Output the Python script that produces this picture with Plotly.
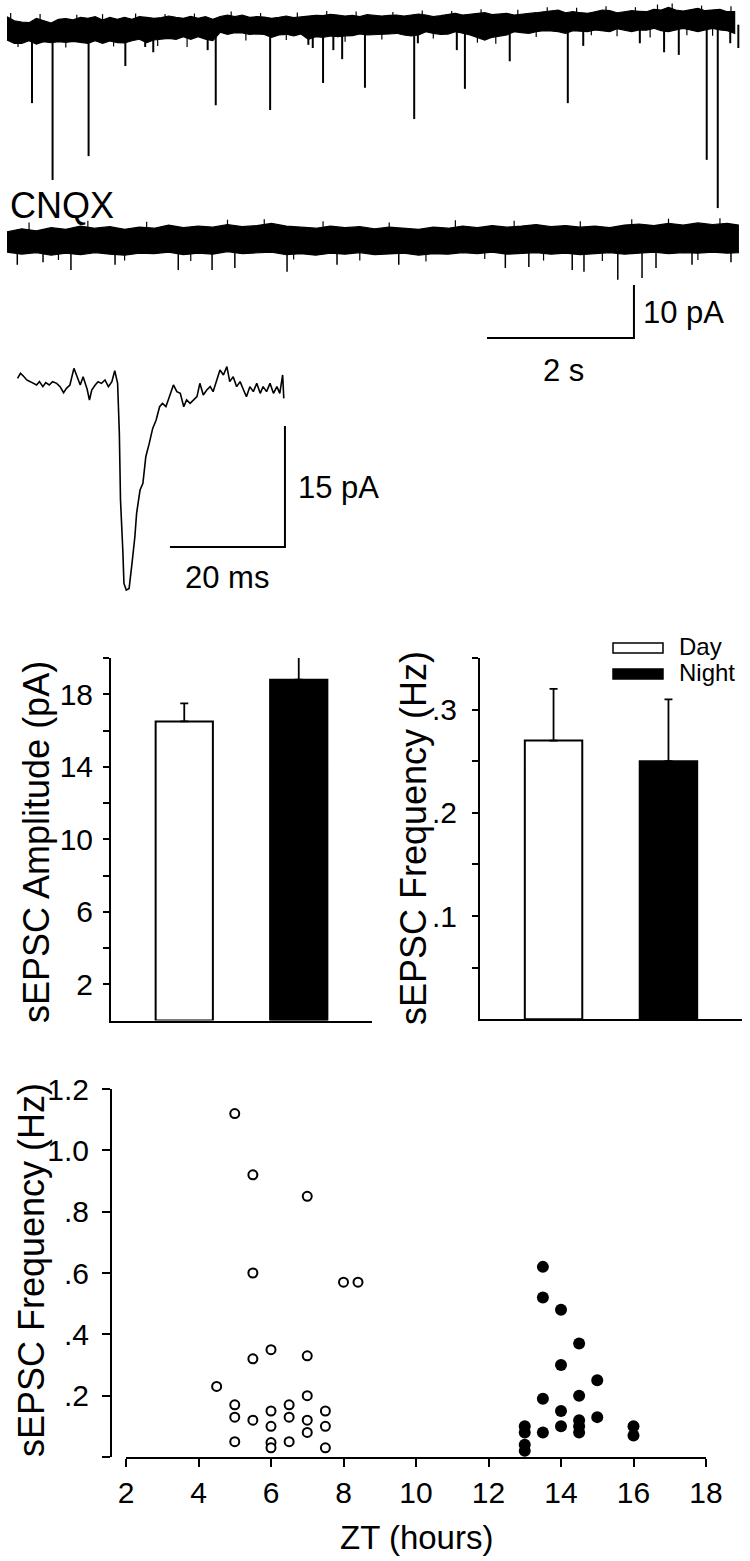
import plotly.graph_objects as go

W, H = 750, 1561
FONT = "Liberation Sans, Arial, sans-serif"

# ---------------- data ----------------
# Top recording (control): noise band envelope sampled every 0.1 s (pA)
TOP_T = [
    0.0, 0.1, 0.2, 0.3, 0.4, 0.5, 0.6, 0.7, 0.8, 0.9,
    1.0, 1.1, 1.2, 1.3, 1.4, 1.5, 1.6, 1.7, 1.8, 1.9,
    2.0, 2.1, 2.2, 2.3, 2.4, 2.5, 2.6, 2.7, 2.8, 2.9,
    3.0, 3.1, 3.2, 3.3, 3.4, 3.5, 3.6, 3.7, 3.8, 3.9,
    4.0, 4.1, 4.2, 4.3, 4.4, 4.5, 4.6, 4.7, 4.8, 4.9,
    5.0, 5.1, 5.2, 5.3, 5.4, 5.5, 5.6, 5.7, 5.8, 5.9,
    6.0, 6.1, 6.2, 6.3, 6.4, 6.5, 6.6, 6.7, 6.8, 6.9,
    7.0, 7.1, 7.2, 7.3, 7.4, 7.5, 7.6, 7.7, 7.8, 7.9,
    8.0, 8.1, 8.2, 8.3, 8.4, 8.5, 8.6, 8.7, 8.8, 8.9,
    9.0, 9.1, 9.2, 9.3, 9.4, 9.5, 9.6, 9.7, 9.8, 9.9,
]
TOP_UPPER = [
    2.51, 1.75, 1.51, 1.38, 2.21, 1.75, 1.32, 2.02, 2.15, 1.90,
    2.40, 2.21, 2.51, 1.89, 2.40, 2.02, 2.40, 2.02, 2.51, 2.40,
    2.21, 2.32, 2.64, 2.40, 2.21, 2.58, 2.21, 2.51, 2.02, 2.51,
    2.83, 2.51, 2.83, 2.40, 2.51, 2.45, 2.21, 2.40, 2.64, 2.32,
    2.45, 2.64, 2.77, 2.70, 2.96, 2.83, 2.64, 2.77, 2.51, 2.89,
    2.70, 2.64, 2.77, 2.83, 2.64, 2.89, 3.02, 2.83, 2.51, 2.70,
    2.89, 3.15, 2.83, 2.96, 3.02, 3.26, 2.89, 3.02, 3.15, 2.83,
    3.02, 3.21, 3.26, 3.45, 3.64, 3.77, 3.26, 3.45, 3.26, 3.15,
    3.45, 3.77, 3.64, 3.26, 3.45, 3.64, 3.53, 3.45, 3.91, 3.77,
    4.28, 3.77, 3.58, 3.77, 4.09, 3.64, 3.77, 3.91, 3.45, 3.45,
]
TOP_LOWER = [
    -1.89, -2.51, -2.51, -2.02, -2.64, -2.21, -2.40, -2.21, -2.33, -2.15,
    -2.40, -2.51, -2.02, -2.51, -2.08, -2.40, -2.45, -2.02, -1.75, -2.40,
    -1.89, -1.75, -1.57, -1.75, -1.26, -1.75, -1.26, -1.75, -2.02, -0.43,
    -0.81, -0.51, -0.55, -0.81, -0.75, -0.85, -1.38, -0.94, -0.81, -1.13,
    -0.75, -1.75, -1.26, -1.38, -1.13, -1.26, -1.13, -1.08, -0.75, -0.94,
    -0.81, -0.85, -0.75, -0.62, -0.94, -1.13, -0.94, -0.32, -0.62, -0.81,
    -0.77, -0.32, -0.62, -0.94, -1.38, -1.89, -1.38, -1.13, -0.94, -0.32,
    -0.51, -0.62, -0.32, -0.13, -0.19, -0.32, -0.62, -0.13, -0.19, -0.32,
    0.00, -0.19, -0.32, 0.25, 0.00, -0.32, 0.00, -0.05, 0.32, -0.13,
    -0.32, 0.00, 0.32, 0.00, -0.32, 0.00, 0.32, 0.00, -0.13, -0.62,
]
# spontaneous EPSCs in the control trace: time (s) and peak (pA)
TOP_EVENT_T = [0.34, 0.62, 1.11, 1.61, 1.88, 1.99, 2.73, 2.84, 3.58, 4.10,
               4.16, 4.30, 4.44, 4.56, 4.87, 5.54, 5.59, 6.12, 6.23, 6.84,
               7.63, 7.84, 8.61, 8.94, 9.14, 9.52, 9.67, 9.84, 9.95]
TOP_EVENT_PEAK = [-13.8, -28.3, -23.8, -6.8, -3.2, -4.2, -3.8, -14.2, -15.1, -2.8,
                  -3.4, -10.0, -3.8, -5.5, -10.9, -16.8, -2.5, -3.8, -11.1, -5.9,
                  -13.8, -3.0, -2.5, -4.2, -4.7, -24.5, -33.6, -2.5, -3.4]
# fine noise spikes sticking out of the control band (s, pA)
TOP_HAIR_T = [0.05, 0.15, 0.45, 0.80, 0.95, 1.30, 1.45, 1.75, 2.05, 2.15,
              2.45, 2.55, 3.05, 3.25, 3.45, 3.80, 3.95, 4.35, 4.60, 4.75,
              5.10, 5.25, 5.65, 5.80, 6.05, 6.40, 6.45, 6.65, 6.95, 7.20,
              7.35, 7.75, 7.95, 8.15, 8.30, 8.55, 8.75, 8.85, 9.05, 9.25,
              9.45, 9.60, 9.85]
TOP_HAIR_TIP = [3.2, -3.2, 3.0, -3.3, 2.9, 3.0, -3.1, 3.1, -3.0, 3.0,
                -3.2, 3.1, 3.5, -2.0, 3.2, -1.9, 3.3, 3.6, -2.2, 3.5,
                -1.8, 3.4, 3.7, -1.6, 3.6, -2.4, 3.9, -2.6, 3.8, -1.3,
                4.3, 4.2, -1.0, 4.5, -1.2, 4.3, -1.4, 4.8, 5.0, -1.0,
                4.6, -1.1, 4.5]

# CNQX recording: envelope every 0.2 s (pA, relative to its own baseline)
CNQX_T = [
    0.0, 0.2, 0.4, 0.6, 0.8, 1.0, 1.2, 1.4, 1.6, 1.8,
    2.0, 2.2, 2.4, 2.6, 2.8, 3.0, 3.2, 3.4, 3.6, 3.8,
    4.0, 4.2, 4.4, 4.6, 4.8, 5.0, 5.2, 5.4, 5.6, 5.8,
    6.0, 6.2, 6.4, 6.6, 6.8, 7.0, 7.2, 7.4, 7.6, 7.8,
    8.0, 8.2, 8.4, 8.6, 8.8, 9.0, 9.2, 9.4, 9.6, 9.8, 9.95,
]
CNQX_UPPER = [
    1.5, 2.1, 1.7, 2.3, 2.0, 2.6, 2.2, 2.5, 2.0, 2.4,
    2.2, 2.8, 2.3, 2.6, 2.4, 2.9, 2.5, 2.7, 3.1, 2.6,
    2.4, 2.2, 2.6, 2.3, 2.5, 2.1, 2.4, 2.2, 2.0, 2.4,
    2.2, 2.6, 2.3, 2.7, 2.4, 2.6, 2.9, 2.5, 2.7, 2.4,
    2.6, 2.3, 2.8, 3.0, 2.7, 3.1, 2.8, 3.2, 2.9, 3.1, 2.8,
]
CNQX_LOWER = [
    -2.3, -2.7, -2.4, -2.9, -2.5, -2.8, -2.4, -2.7, -2.9, -2.5,
    -2.6, -2.3, -2.8, -2.5, -2.7, -2.2, -2.6, -2.4, -2.3, -2.8,
    -2.6, -2.9, -2.5, -2.7, -2.4, -2.8, -2.6, -2.5, -2.9, -2.6,
    -2.7, -2.4, -2.6, -2.3, -2.7, -2.5, -2.4, -2.7, -2.5, -2.8,
    -2.6, -2.4, -2.7, -2.5, -2.3, -2.6, -2.4, -2.5, -2.3, -2.5, -2.4,
]
CNQX_EVENT_T = [0.14, 0.49, 0.87, 1.47, 2.33, 2.79, 3.10, 3.81, 4.49, 5.33,
                6.78, 7.10, 7.69, 7.85, 8.31, 8.64, 8.83, 9.32, 9.85]
CNQX_EVENT_PEAK = [-4.7, -4.2, -5.7, -4.7, -5.7, -5.7, -5.3, -6.0, -4.7, -4.7,
                   -5.3, -5.1, -5.7, -6.0, -7.5, -7.2, -5.3, -4.7, -4.2]
CNQX_HAIR_T = [0.3, 0.7, 1.1, 1.6, 1.9, 2.5, 3.0, 3.5, 3.9, 4.3, 4.8, 5.2,
               5.7, 6.1, 6.5, 6.9, 7.3, 7.8, 8.1, 8.5, 9.0, 9.4, 9.7]
CNQX_HAIR_TIP = [3.3, -3.8, 3.6, -3.9, 3.4, -4.0, 3.8, 3.9, -3.7, 3.5, -3.9, 3.3,
                 -4.1, 3.7, -3.6, 3.6, -3.9, 3.5, -4.0, 3.9, 4.0, -3.8, 4.1]

# averaged sEPSC (ms, pA)
EPSC_MS = [0.1, 0.6, 1.1, 1.7, 2.3, 2.8, 3.4, 3.9, 4.5, 5.0,
           5.6, 6.2, 6.9, 7.5, 8.1, 8.6, 9.2, 9.9, 10.4, 11.0,
           11.5, 12.2, 12.6, 13.0, 13.6, 14.1, 14.7, 15.3, 15.9, 16.5,
           17.0, 17.5, 17.8, 18.0, 18.4, 18.6, 19.0, 19.5, 20.0, 20.5,
           20.8, 21.4, 21.9, 22.4, 23.0, 23.6, 24.2, 24.8, 25.3, 25.9,
           26.5, 27.2, 27.8, 28.4, 29.0, 29.5, 30.1, 30.7, 31.3, 31.8,
           32.4, 33.0, 33.6, 34.1, 34.7, 35.3, 35.9, 36.5, 37.0, 37.6,
           38.2, 38.8, 39.4, 39.9, 40.5, 41.1, 41.7, 42.3, 42.8, 43.4,
           44.0, 44.6, 45.2, 45.7, 46.2, 46.4]
EPSC_PA = [0.70, 1.32, 0.99, 0.50, 0.29, 0.08, -0.12, 0.29, -0.33, 0.17,
           -0.12, 0.29, 0.08, -0.33, -1.07, -0.54, -0.12, 1.94, 0.91, -0.12,
           0.91, -0.66, -1.98, -0.74, -0.12, 0.29, 0.08, 0.50, -0.33, 0.29,
           1.65, 0.08, -6.12, -14.38, -20.58, -24.71, -25.54, -25.33, -22.23, -18.93,
           -16.03, -13.14, -12.31, -9.01, -7.36, -5.50, -4.46, -2.81, -2.40, -2.81,
           -1.57, -0.12, -0.95, -1.16, -2.81, -1.98, -2.40, -1.98, -1.57, 0.08,
           -1.36, -0.74, -0.33, -0.95, 0.50, 1.74, 1.12, 2.15, 0.29, 0.91,
           -0.33, 0.29, -0.74, -1.57, -0.33, -0.95, 0.08, -1.16, -0.33, -0.95,
           0.08, -1.16, -0.33, -1.16, 1.12, -1.78]

GROUPS = ["Day", "Night"]
GROUP_X = [1, 2]
AMP_MEAN = [16.5, 18.8]
AMP_SEM = [1.0, 1.25]
FREQ_MEAN = [0.27, 0.25]
FREQ_SEM = [0.05, 0.06]

AMP_TICKS = [2, 4, 6, 8, 10, 12, 14, 16, 18, 20]
AMP_TICKTEXT = ["2", "", "6", "", "10", "", "14", "", "18", ""]
FREQ_TICKS = [0.05, 0.1, 0.15, 0.2, 0.25, 0.3, 0.35]
FREQ_TICKTEXT = ["", ".1", "", ".2", "", ".3", ""]

DAY_ZT = [5, 5.5, 7, 5.5, 8, 8.4, 4.5, 5.5, 6, 7,
          7, 5, 5, 5, 5.5, 6, 6, 6, 6, 6.5,
          6.5, 6.5, 7, 7, 7.5, 7.5, 7.5]
DAY_FREQ = [1.12, 0.92, 0.85, 0.60, 0.57, 0.57, 0.23, 0.32, 0.35, 0.33,
            0.20, 0.17, 0.13, 0.05, 0.12, 0.15, 0.10, 0.047, 0.03, 0.17,
            0.13, 0.05, 0.12, 0.08, 0.15, 0.10, 0.03]
NIGHT_ZT = [13.5, 13.5, 14, 14.5, 14, 15, 13.5, 14.5, 14, 15,
            14, 14.5, 14.5, 14.5, 13.5, 13, 13, 13, 13, 16, 16]
NIGHT_FREQ = [0.62, 0.52, 0.48, 0.37, 0.30, 0.25, 0.19, 0.20, 0.15, 0.13,
              0.10, 0.12, 0.10, 0.08, 0.08, 0.10, 0.08, 0.04, 0.02, 0.10, 0.07]

ZT_TICKS = [2, 4, 6, 8, 10, 12, 14, 16, 18]
SC_Y_TICKS = [0, 0.2, 0.4, 0.6, 0.8, 1.0, 1.2]
SC_Y_TICKTEXT = ["", ".2", ".4", ".6", ".8", "1.0", "1.2"]


# ---------------- layout helpers (pixel -> paper) ----------------
def xp(px):
    return px / W


def yp(py):
    return 1 - py / H


# trace panel calibration
T0_PX, PX_PER_S = 7, 73.5
ZERO_PY, PX_PER_PA = 30, 5.3
CNQX_OFFSET = -39.6          # CNQX trace drawn below the control trace
EVENT_BASE = 1.0
TRACE_BOTTOM_PY = 345

# inset calibration
I_T0_PX, PX_PER_MS = 17, 5.75
I_ZERO_PY, I_PX_PER_PA = 384, 8.07


def band(t, upper, lower, offset=0.0):
    return go.Scatter(
        x=t + t[::-1],
        y=[v + offset for v in upper] + [v + offset for v in lower[::-1]],
        mode="lines", fill="toself", fillcolor="black",
        line=dict(color="black", width=1.2),
        xaxis="x", yaxis="y", hoverinfo="skip",
    )


def events(times, peaks, base, offset=0.0, width=1.8):
    xs, ys = [], []
    for t, p in zip(times, peaks):
        xs += [t, t, None]
        ys += [base + offset, p + offset, None]
    return go.Scatter(x=xs, y=ys, mode="lines",
                      line=dict(color="black", width=width),
                      xaxis="x", yaxis="y", hoverinfo="skip")


fig = go.Figure()

# recordings
fig.add_trace(band(TOP_T, TOP_UPPER, TOP_LOWER))
fig.add_trace(events(TOP_HAIR_T, TOP_HAIR_TIP, EVENT_BASE, width=1.2))
fig.add_trace(events(TOP_EVENT_T, TOP_EVENT_PEAK, EVENT_BASE, width=2))
fig.add_trace(band(CNQX_T, CNQX_UPPER, CNQX_LOWER, CNQX_OFFSET))
fig.add_trace(events(CNQX_HAIR_T, CNQX_HAIR_TIP, 0.0, CNQX_OFFSET, width=1.2))
fig.add_trace(events(CNQX_EVENT_T, CNQX_EVENT_PEAK, 0.5, CNQX_OFFSET, width=1.5))

# 10 pA / 2 s scale bar
SB_T, SB_I = 8.53, -58.1
fig.add_trace(go.Scatter(x=[SB_T - 2, SB_T, SB_T], y=[SB_I, SB_I, SB_I + 10],
                         mode="lines", line=dict(color="black", width=2),
                         xaxis="x", yaxis="y", hoverinfo="skip"))

# averaged sEPSC inset + 15 pA / 20 ms bar
fig.add_trace(go.Scatter(x=EPSC_MS, y=EPSC_PA, mode="lines",
                         line=dict(color="black", width=1.6),
                         xaxis="x2", yaxis="y2", hoverinfo="skip"))
IB_T, IB_I = 46.6, -20.2
fig.add_trace(go.Scatter(x=[IB_T - 20, IB_T, IB_T], y=[IB_I, IB_I, IB_I + 15],
                         mode="lines", line=dict(color="black", width=2),
                         xaxis="x2", yaxis="y2", hoverinfo="skip"))

# bar charts
BAR_COLORS = ["white", "black"]
fig.add_trace(go.Bar(
    x=GROUP_X, y=AMP_MEAN, width=0.5, name="Amplitude",
    marker=dict(color=BAR_COLORS, line=dict(color="black", width=2)),
    error_y=dict(type="data", array=AMP_SEM, arrayminus=[0, 0], symmetric=False,
                 color="black", thickness=1.8, width=4),
    cliponaxis=False, xaxis="x3", yaxis="y3",
))
fig.add_trace(go.Bar(
    x=GROUP_X, y=FREQ_MEAN, width=0.5, name="Frequency",
    marker=dict(color=BAR_COLORS, line=dict(color="black", width=2)),
    error_y=dict(type="data", array=FREQ_SEM, arrayminus=[0, 0], symmetric=False,
                 color="black", thickness=1.8, width=4),
    cliponaxis=False, xaxis="x4", yaxis="y4",
))

# scatter of individual cells
fig.add_trace(go.Scatter(
    x=DAY_ZT, y=DAY_FREQ, mode="markers", name="Day",
    marker=dict(symbol="circle", size=9, color="white",
                line=dict(color="black", width=2)),
    cliponaxis=False, xaxis="x5", yaxis="y5",
))
fig.add_trace(go.Scatter(
    x=NIGHT_ZT, y=NIGHT_FREQ, mode="markers", name="Night",
    marker=dict(symbol="circle", size=12, color="black",
                line=dict(color="black", width=0)),
    cliponaxis=False, xaxis="x5", yaxis="y5",
))

hidden = dict(visible=False, showgrid=False, zeroline=False, automargin=False)
axis_common = dict(showgrid=False, zeroline=False, showline=True, automargin=False,
                   linecolor="black", linewidth=2, ticks="outside",
                   tickcolor="black", tickwidth=1.6,
                   tickfont=dict(family=FONT, size=30, color="black"))
bar_x = dict(showgrid=False, zeroline=False, showline=True, automargin=False,
             linecolor="black", linewidth=2, showticklabels=False, ticks="")

layout = dict(
    width=W, height=H,
    margin=dict(l=0, r=0, t=0, b=0, pad=0, autoexpand=False),
    paper_bgcolor="white", plot_bgcolor="white",
    showlegend=False,
    font=dict(family=FONT, color="black"),
    xaxis=dict(domain=[0, 1], range=[-T0_PX / PX_PER_S, (W - T0_PX) / PX_PER_S],
               anchor="y", **hidden),
    yaxis=dict(domain=[yp(TRACE_BOTTOM_PY), 1],
               range=[(ZERO_PY - TRACE_BOTTOM_PY) / PX_PER_PA, ZERO_PY / PX_PER_PA],
               anchor="x", **hidden),
    xaxis2=dict(domain=[0, xp(300)],
                range=[-I_T0_PX / PX_PER_MS, (300 - I_T0_PX) / PX_PER_MS],
                anchor="y2", **hidden),
    yaxis2=dict(domain=[yp(610), yp(350)],
                range=[(I_ZERO_PY - 610) / I_PX_PER_PA, (I_ZERO_PY - 350) / I_PX_PER_PA],
                anchor="x2", **hidden),
    xaxis3=dict(domain=[xp(111), xp(372)], range=[0.36, 2.64], anchor="y3", **bar_x),
    yaxis3=dict(domain=[yp(1020.5), yp(658)], range=[0, 20], anchor="x3",
                tickvals=AMP_TICKS, ticktext=AMP_TICKTEXT, ticklen=6,
                ticklabelstandoff=4, **axis_common),
    xaxis4=dict(domain=[xp(480), xp(742)], range=[0.36, 2.64], anchor="y4", **bar_x),
    yaxis4=dict(domain=[yp(1019.3), yp(658)], range=[0, 0.35], anchor="x4",
                tickvals=FREQ_TICKS, ticktext=FREQ_TICKTEXT, ticklen=6,
                ticklabelstandoff=9, **axis_common),
    xaxis5=dict(domain=[xp(126), xp(706)], range=[2, 18], anchor="y5",
                tickvals=ZT_TICKS, ticklen=8, ticklabelstandoff=0,
                **axis_common),
    yaxis5=dict(domain=[yp(1457), yp(1089)], range=[0, 1.2], anchor="free",
                position=xp(111), tickvals=SC_Y_TICKS, ticktext=SC_Y_TICKTEXT,
                ticklen=8, ticklabelstandoff=7, **axis_common),
)
fig.update_layout(**layout)


def label(text, px, py, size, xanchor="center", angle=0):
    fig.add_annotation(text=text, x=xp(px), y=yp(py), xref="paper", yref="paper",
                       xanchor=xanchor, yanchor="middle", showarrow=False,
                       textangle=angle,
                       font=dict(family=FONT, size=size, color="black"))


label("CNQX", 8, 205, 36, xanchor="left")
label("10 pA", 641, 313, 31, xanchor="left")
label("2 s", 563, 370, 31)
label("15 pA", 296, 488, 31, xanchor="left")
label("20 ms", 227, 577, 31)
label("sEPSC Amplitude (pA)", 37, 842, 36, angle=-90)
label("sEPSC Frequency (Hz)", 413, 838, 36, angle=-90)
label("sEPSC Frequency (Hz)", 31, 1270, 36, angle=-90)
label("ZT (hours)", 416, 1537, 33)

# legend of the bar charts
for name, fill, top in zip(GROUPS, BAR_COLORS, [643, 669]):
    fig.add_shape(type="rect", xref="paper", yref="paper",
                  x0=xp(613), x1=xp(663), y0=yp(top + 10), y1=yp(top),
                  fillcolor=fill, line=dict(color="black", width=1.5))
    label(name, 677, top + 4, 24, xanchor="left")

# the page's default body margin would shift the whole figure by 8 px
fig.write_html(
    "out.html",
    config={"displayModeBar": False},
    post_script="document.body.style.margin='0';document.body.style.overflow='hidden';",
)
